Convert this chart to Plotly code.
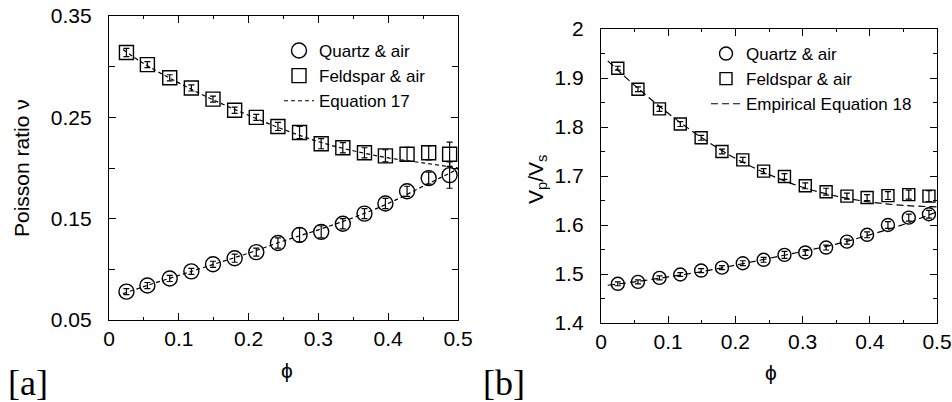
import plotly.graph_objects as go

# Porosity of the packs
phi = [0.025, 0.055, 0.087, 0.118, 0.149, 0.180, 0.211, 0.242,
       0.273, 0.304, 0.335, 0.366, 0.396, 0.427, 0.458, 0.488]

# Panel a: Poisson ratio
nu_quartz = [0.078, 0.084, 0.091, 0.098, 0.105, 0.111, 0.117, 0.126,
             0.134, 0.137, 0.145, 0.155, 0.165, 0.177, 0.190, 0.193]
nu_quartz_err = [0.003, 0.003, 0.003, 0.003, 0.003, 0.004, 0.004, 0.005,
                 0.007, 0.006, 0.005, 0.005, 0.005, 0.005, 0.006, 0.013]
nu_feldspar = [0.314, 0.302, 0.289, 0.279, 0.268, 0.257, 0.250, 0.241,
               0.235, 0.224, 0.220, 0.215, 0.212, 0.2135, 0.2150, 0.2136]
nu_feldspar_err = [0.004, 0.003, 0.003, 0.003, 0.003, 0.003, 0.003, 0.004,
                   0.006, 0.005, 0.005, 0.005, 0.006, 0.007, 0.007, 0.012]

# Equation 17 curves
phi_eq17 = [0.02, 0.05, 0.10, 0.15, 0.20, 0.25, 0.30, 0.35, 0.40, 0.45, 0.50]
eq17_quartz = [0.076, 0.083, 0.094, 0.105, 0.116, 0.128, 0.139, 0.151, 0.165, 0.182, 0.199]
eq17_feldspar = [0.317, 0.303, 0.284, 0.267, 0.252, 0.238, 0.226, 0.217, 0.210, 0.205, 0.200]

# Panel b: Vp/Vs
vr_quartz = [1.480, 1.484, 1.492, 1.499, 1.507, 1.513, 1.522, 1.529,
             1.539, 1.544, 1.554, 1.566, 1.580, 1.600, 1.615, 1.622]
vr_quartz_err = [0.004, 0.004, 0.004, 0.004, 0.004, 0.004, 0.005, 0.005,
                 0.007, 0.006, 0.005, 0.005, 0.006, 0.007, 0.007, 0.008]
vr_feldspar = [1.920, 1.877, 1.837, 1.806, 1.778, 1.750, 1.733, 1.710,
               1.699, 1.680, 1.668, 1.659, 1.656, 1.660, 1.662, 1.659]
vr_feldspar_err = [0.004, 0.005, 0.005, 0.005, 0.005, 0.005, 0.005, 0.005,
                   0.006, 0.006, 0.007, 0.006, 0.006, 0.008, 0.009, 0.011]

# Empirical equation 18 curves
phi_eq18 = [0.01, 0.05, 0.10, 0.15, 0.20, 0.25, 0.30, 0.35, 0.40, 0.45, 0.50]
eq18_quartz = [1.477, 1.484, 1.494, 1.505, 1.518, 1.532, 1.546, 1.561, 1.580, 1.601, 1.627]
eq18_feldspar = [1.935, 1.885, 1.828, 1.778, 1.736, 1.703, 1.677, 1.659, 1.647, 1.640, 1.637]

SANS = "Liberation Sans"
SERIF = "Liberation Serif"
W, H = 952, 402

fig = go.Figure()


def add_panel(xa, ya, leg, yq, yq_err, yf, yf_err, xc, cq, cf, eq_name, dash, msize):
    err = dict(type="data", thickness=1.2, width=3, color="black")
    fig.add_trace(go.Scatter(
        x=phi, y=yq, mode="markers", name="Quartz & air",
        marker=dict(symbol="circle-open", size=msize, color="black", line=dict(width=1.4)),
        error_y=dict(array=yq_err, **err),
        xaxis=xa, yaxis=ya, legend=leg))
    fig.add_trace(go.Scatter(
        x=phi, y=yf, mode="markers", name="Feldspar & air",
        marker=dict(symbol="square-open", size=msize - 1, color="black", line=dict(width=1.4)),
        error_y=dict(array=yf_err, **err),
        xaxis=xa, yaxis=ya, legend=leg))
    fig.add_trace(go.Scatter(
        x=xc, y=cf, mode="lines", name=eq_name, line_shape="spline",
        line=dict(color="black", width=1.2, dash=dash),
        xaxis=xa, yaxis=ya, legend=leg))
    fig.add_trace(go.Scatter(
        x=xc, y=cq, mode="lines", name=eq_name, showlegend=False, line_shape="spline",
        line=dict(color="black", width=1.2, dash=dash),
        xaxis=xa, yaxis=ya, legend=leg))


add_panel("x", "y", "legend", nu_quartz, nu_quartz_err, nu_feldspar, nu_feldspar_err,
          phi_eq17, eq17_quartz, eq17_feldspar, "Equation 17", "4px,3px", 15)
add_panel("x2", "y2", "legend2", vr_quartz, vr_quartz_err, vr_feldspar, vr_feldspar_err,
          phi_eq18, eq18_quartz, eq18_feldspar, "Empirical Equation 18", "7px,4px", 13)

axis_common = dict(
    showline=True, linecolor="black", linewidth=1.3, mirror="ticks",
    ticks="inside", ticklen=7, tickwidth=1.2, tickcolor="black",
    showgrid=False, zeroline=False, automargin=False,
    tickfont=dict(family=SANS, size=21, color="black"),
)


def px_x(p):
    return p / W


def px_y(p):
    return 1 - p / H


def label(text, x, y, size=21, family=SANS, angle=0):
    return dict(text=text, x=px_x(x), y=px_y(y), xref="paper", yref="paper",
                xanchor="center", yanchor="middle", textangle=angle,
                showarrow=False, font=dict(family=family, size=size, color="black"))


x_minor = dict(dtick=0.05, ticks="inside", ticklen=3, tickwidth=1, tickcolor="black")

fig.update_layout(
    width=W, height=H,
    margin=dict(l=0, r=0, t=0, b=0, autoexpand=False),
    paper_bgcolor="white", plot_bgcolor="white",
    font=dict(family=SANS, color="black"),
    xaxis=dict(domain=[px_x(109), px_x(458)], range=[0, 0.5], tick0=0, dtick=0.1,
               minor=x_minor, ticklabelstandoff=0, anchor="y", **axis_common),
    yaxis=dict(domain=[px_y(320), px_y(16)], range=[0.05, 0.35], tick0=0.05, dtick=0.1,
               minor=dict(dtick=0.05, ticks="inside", ticklen=6, tickwidth=1, tickcolor="black"),
               ticklabelstandoff=12, anchor="x", **axis_common),
    xaxis2=dict(domain=[px_x(601), px_x(937)], range=[0, 0.5], tick0=0, dtick=0.1,
                minor=x_minor, ticklabelstandoff=0, anchor="y2", **axis_common),
    yaxis2=dict(domain=[px_y(323), px_y(29)], range=[1.4, 2.0], tick0=1.4, dtick=0.1,
                minor=dict(dtick=0.05, ticks="inside", ticklen=4, tickwidth=1, tickcolor="black"),
                ticklabelstandoff=12, anchor="x2", **axis_common),
    legend=dict(x=px_x(279), y=px_y(33), xanchor="left", yanchor="top",
                bgcolor="rgba(0,0,0,0)", font=dict(family=SANS, size=17, color="black"),
                itemwidth=30, tracegroupgap=0),
    legend2=dict(x=px_x(706), y=px_y(36), xanchor="left", yanchor="top",
                 bgcolor="rgba(0,0,0,0)", font=dict(family=SANS, size=17, color="black"),
                 itemwidth=30, tracegroupgap=0),
    annotations=[
        label("Poisson ratio ν", 21, 168, angle=-90),
        label("ϕ", 287, 370),
        label("V<sub>p</sub>/V<sub>s</sub>", 537, 180, angle=-90),
        label("ϕ", 771, 372),
        label("[a]", 28, 383, size=36, family=SERIF),
        label("[b]", 504, 383, size=36, family=SERIF),
    ],
)

fig.write_html("out.html")
